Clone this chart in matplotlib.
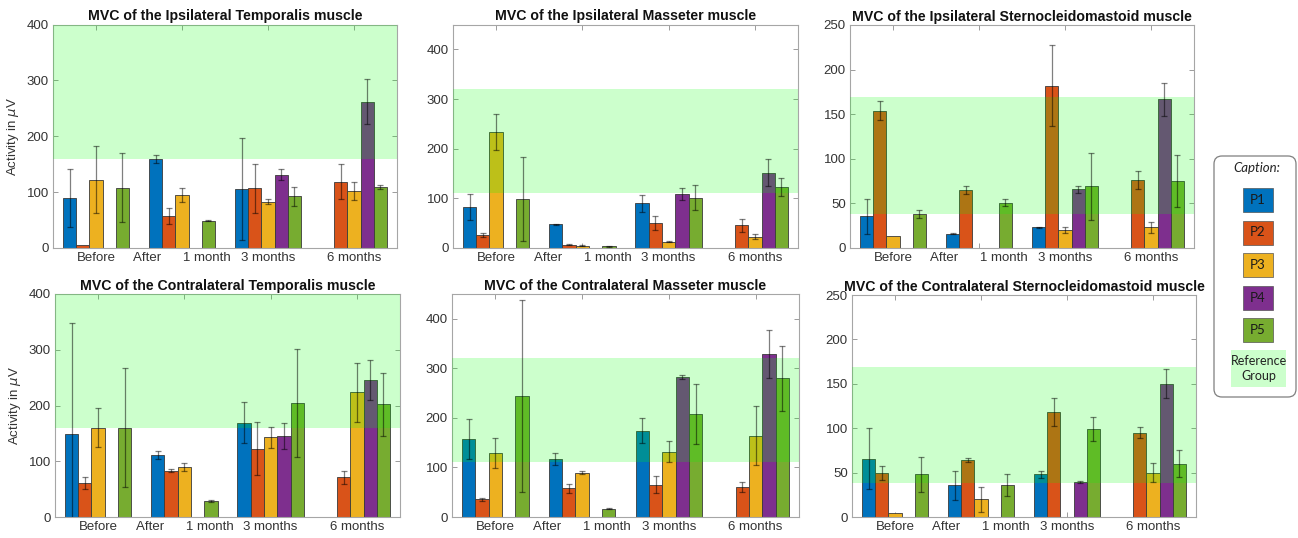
import matplotlib
matplotlib.use('Agg')
import matplotlib.pyplot as plt
import numpy as np
from matplotlib.patches import FancyBboxPatch, Rectangle

nan = np.nan

# x categories (4 bar groups, the second label covers "After" and "1 month")
groups = ['Before', 'After      1 month', '3 months', '6 months']
participants = ['P1', 'P2', 'P3', 'P4', 'P5']
colors = ['#0072BD', '#D95319', '#EDB120', '#7E2F8E', '#77AC30']

# --- Ipsilateral Temporalis ---
it_mean = [[90, 159, 105, nan], [5, 57, 107, 119], [122, 95, 83, 102],
           [nan, nan, 131, 262], [108, 49, 93, 109]]
it_err = [[52, 7, 91, nan], [nan, 14, 44, 32], [60, 12, 5, 16],
          [nan, nan, 10, 40], [62, 1, 17, 3]]

# --- Ipsilateral Masseter ---
im_mean = [[83, 48, 90, nan], [27, 7, 50, 46], [234, 5, 13, 23],
           [nan, nan, 108, 152], [99, 4, 101, 122]]
im_err = [[26, 1, 17, nan], [4, 1, 14, 13], [36, 1, 1, 5],
          [nan, nan, 12, 27], [85, 1, 25, 18]]

# --- Ipsilateral Sternocleidomastoid ---
is_mean = [[35.5, 16, 23, nan], [154, 65, 182, 76], [14, nan, 20.5, 23],
           [nan, nan, 66, 167], [38, 51, 69, 75]]
is_err = [[19.5, 0.5, 0.5, nan], [10.5, 4, 45.5, 10], [nan, nan, 3.5, 6],
          [nan, nan, 4, 18.5], [4.5, 4, 38, 29.5]]

# --- Contralateral Temporalis ---
ct_mean = [[149, 110.5, 169, nan], [61, 83, 122.5, 71], [160, 89, 143, 224],
           [nan, nan, 145, 246], [160, 29, 205, 202]]
ct_err = [[199, 7, 37, nan], [10, 3, 48, 11], [35, 7, 19, 53],
          [nan, nan, 23, 36], [107, 2, 97, 57]]

# --- Contralateral Masseter ---
cm_mean = [[158, 117, 174.5, nan], [35.5, 58, 65, 60.5], [129.5, 89, 132, 164],
           [nan, nan, 283, 329.5], [244, 16.8, 208, 280]]
cm_err = [[40, 12, 25, nan], [3, 9, 17.5, 10.5], [30, 3, 22, 59.5],
          [nan, nan, 4, 48], [194, 0.5, 60, 66]]

# --- Contralateral Sternocleidomastoid ---
cs_mean = [[65.7, 35.7, 48, nan], [49.5, 64, 118, 95], [4, 20, nan, 50],
           [nan, nan, 39, 150], [48, 36.4, 99.5, 60]]
cs_err = [[34.5, 16, 4, nan], [7.5, 2.5, 15.5, 5.8], [nan, 14, nan, 11],
          [nan, nan, 1, 16.5], [20, 12.5, 13.5, 15]]

# reference group ranges (low, high)
ref_temporalis = (160, 400)
ref_masseter = (110, 320)
ref_scm = (38, 169)

panels = [
    ('MVC of the Ipsilateral Temporalis muscle', it_mean, it_err, ref_temporalis, 400, [0, 100, 200, 300, 400], True),
    ('MVC of the Ipsilateral Masseter muscle', im_mean, im_err, ref_masseter, 450, [0, 100, 200, 300, 400], False),
    ('MVC of the Ipsilateral Sternocleidomastoid muscle', is_mean, is_err, ref_scm, 250, [0, 50, 100, 150, 200, 250], False),
    ('MVC of the Contralateral Temporalis muscle', ct_mean, ct_err, ref_temporalis, 400, [0, 100, 200, 300, 400], True),
    ('MVC of the Contralateral Masseter muscle', cm_mean, cm_err, ref_masseter, 450, [0, 100, 200, 300, 400], False),
    ('MVC of the Contralateral Sternocleidomastoid muscle', cs_mean, cs_err, ref_scm, 250, [0, 50, 100, 150, 200, 250], False),
]

# axes rectangles in pixels (left, top, right, bottom)
W, H = 1298, 538
boxes = [(53, 24.5, 397, 248), (453, 24.5, 798, 248), (850, 25, 1194, 248),
         (55, 294, 400, 517), (452, 294, 799, 517), (852, 295, 1196, 517)]

plt.rcParams['font.family'] = ['Liberation Sans', 'DejaVu Sans']
fig = plt.figure(figsize=(W / 100, H / 100), dpi=100)

x = np.arange(1, len(groups) + 1)
bw = 0.769 / 5

for (title, means, errs, ref, ytop, yticks, ylab), (l, t, r, b) in zip(panels, boxes):
    ax = fig.add_axes([l / W, 1 - b / H, (r - l) / W, (b - t) / H])
    for i in range(5):
        xi = x + (i - 2) * bw
        ax.bar(xi, means[i], width=bw, color=colors[i], edgecolor='#3a3a3a',
               linewidth=0.6, zorder=2)
        ax.errorbar(xi, means[i], yerr=errs[i], fmt='none', ecolor='black',
                    elinewidth=0.9, capsize=2.5, capthick=0.9, alpha=0.5, zorder=4)
    # reference group band, drawn over the bars
    ax.axhspan(ref[0], ref[1], color=(0, 1, 0), alpha=0.2, lw=0, zorder=3)
    ax.set_xlim(0.5, 4.5)
    ax.set_ylim(0, ytop)
    ax.set_yticks(yticks)
    ax.set_xticks(x)
    ax.set_xticklabels(groups)
    ax.tick_params(direction='in', top=True, right=True, length=3.5, width=0.6,
                   colors='#8c8c8c', labelcolor='#333333', labelsize=9.5, pad=3)
    for sp in ax.spines.values():
        sp.set_color('#a6a6a6')
        sp.set_linewidth(0.8)
    ax.set_title(title, fontsize=10.2, fontweight='bold', pad=3, color='#111111')
    if ylab:
        ax.set_ylabel(r'Activity in $\mu$V', fontsize=9.5, color='#333333', labelpad=4)

# caption box on the right
lg = fig.add_axes([0, 0, 1, 1])
lg.set_xlim(0, W)
lg.set_ylim(H, 0)
lg.axis('off')
lg.add_patch(FancyBboxPatch((1214, 156), 82, 241, boxstyle='round,pad=0,rounding_size=8',
                            facecolor='white', edgecolor='#7f7f7f', linewidth=0.9))
lg.text(1257, 168, 'Caption:', ha='center', va='center', fontsize=9.5, style='italic',
        family=['Lato', 'DejaVu Sans'], color='#222222')
for i, p in enumerate(participants):
    y0 = 188 + i * 32.5
    lg.add_patch(Rectangle((1243, y0), 30, 24, facecolor=colors[i], edgecolor='#555555',
                           linewidth=0.5))
    lg.text(1258, y0 + 12, p, ha='center', va='center', fontsize=9.5,
            family=['Lato', 'DejaVu Sans'], color='#1a1a1a')
lg.add_patch(Rectangle((1231, 350), 55, 37, facecolor='#ccffcc', edgecolor='none'))
lg.text(1258.5, 368.5, 'Reference\nGroup', ha='center', va='center', fontsize=9,
        family=['Lato', 'DejaVu Sans'], color='#222222', linespacing=1.3)

fig.savefig('out.png', dpi=100)
